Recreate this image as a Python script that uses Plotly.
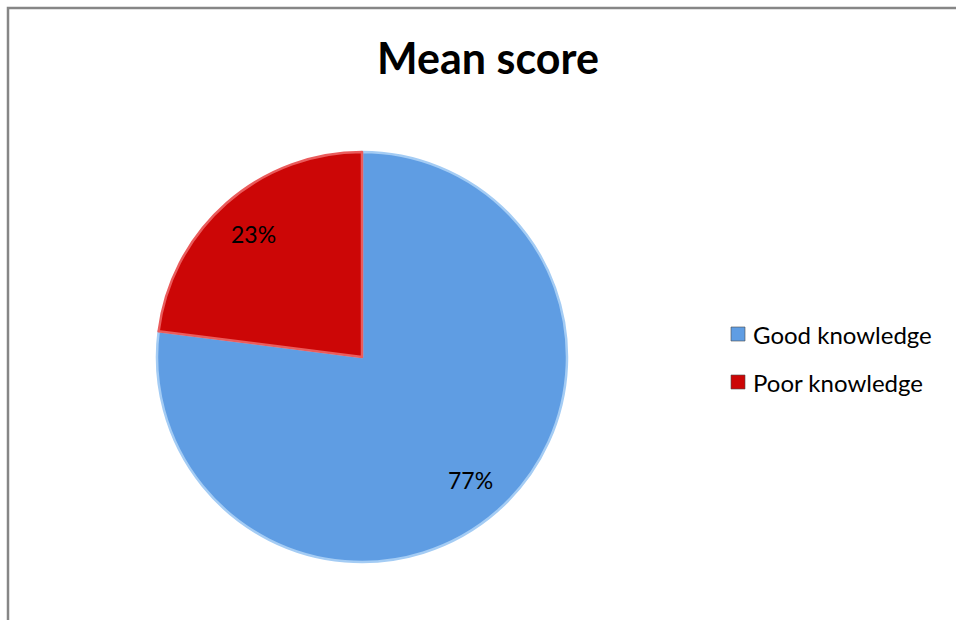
import math
import plotly.graph_objects as go

# Knowledge categories and their share of respondents (%)
categories = ["Good knowledge", "Poor knowledge"]
values = [77, 23]
colors = ["#5f9de3", "#cc0606"]
edge_colors = ["#a4ccf4", "#ea5c5c"]

W, H = 956, 620
cx, cy, r = 362, 357, 205

fig = go.Figure()
fig.add_trace(go.Pie(
    labels=categories,
    values=values,
    sort=False,
    direction="clockwise",
    rotation=0,
    marker=dict(colors=colors, line=dict(color=edge_colors, width=2.5)),
    textinfo="none",
    domain=dict(x=[(cx - r) / W, (cx + r) / W], y=[(H - cy - r) / H, (H - cy + r) / H]),
    showlegend=False,
    hoverinfo="label+percent",
))

# Percentage labels on each slice's bisector, at 80% of the radius
total = sum(values)
cum = 0
for v in values:
    mid = (cum + v / 2) / total * 2 * math.pi  # clockwise from 12 o'clock
    cum += v
    px = cx + 0.8 * r * math.sin(mid)
    py = cy - 0.8 * r * math.cos(mid)
    fig.add_annotation(text=f"{v}%", xref="paper", yref="paper",
                       x=px / W, y=(H - py) / H, showarrow=False,
                       xanchor="center", yanchor="middle",
                       font=dict(family="Lato", size=23, color="#000000"))

# Legend drawn as square swatches with labels on the right
leg_x, leg_y0, leg_step = 738, 334, 48
for i, (name, col) in enumerate(zip(categories, colors)):
    y = leg_y0 + i * leg_step
    fig.add_shape(type="rect", xref="paper", yref="paper",
                  x0=(leg_x - 7) / W, x1=(leg_x + 7) / W,
                  y0=(H - y - 7) / H, y1=(H - y + 7) / H,
                  fillcolor=col, line=dict(color="#4a4a4a", width=0.6))
    fig.add_annotation(text=name, xref="paper", yref="paper",
                       x=(leg_x + 13) / W, y=(H - y) / H,
                       xanchor="left", yanchor="middle", showarrow=False,
                       font=dict(family="Lato", size=24, color="#000000"))

# Chart frame
fig.add_shape(type="rect", xref="paper", yref="paper",
              x0=8 / W, x1=1.05, y0=-0.05, y1=(H - 8) / H,
              line=dict(color="#868686", width=2.5), fillcolor="rgba(0,0,0,0)")

fig.update_layout(
    width=W, height=H,
    margin=dict(l=0, r=0, t=0, b=0),
    paper_bgcolor="white",
    plot_bgcolor="white",
    title=dict(text="<b>Mean score</b>", x=488 / W, xanchor="center",
               y=(H - 59) / H, yanchor="middle",
               font=dict(family="Lato", size=43, color="#000000")),
)

fig.write_html("out.html")
